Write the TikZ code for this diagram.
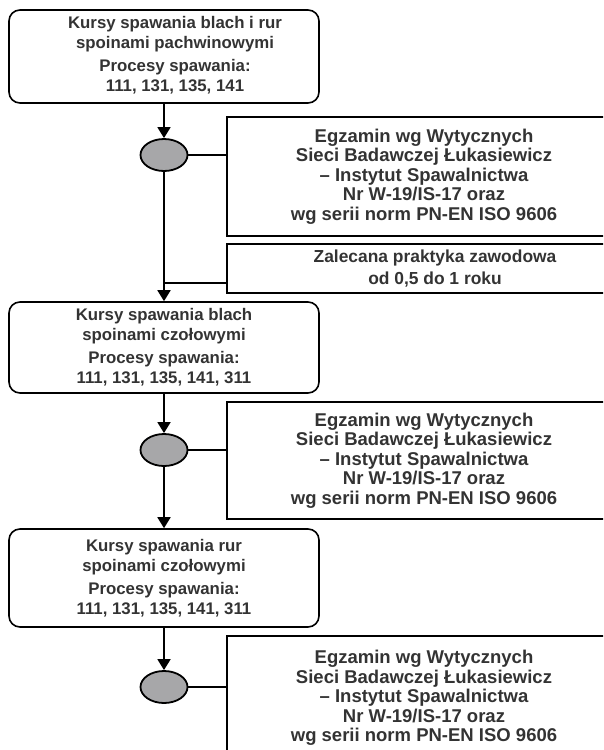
\documentclass[tikz,border=0pt]{standalone}
\usepackage{fontspec}
\setmainfont{Liberation Sans}
\usetikzlibrary{arrows.meta,shapes.geometric}
\definecolor{txtgray}{HTML}{333333}
\definecolor{ovalgray}{HTML}{A7A7A9}
\tikzset{
  course/.style={draw, line width=1.6pt, rounded corners=11pt, minimum width=310pt},
  exam/.style={draw, line width=1.6pt, minimum width=394pt},
  oval/.style={draw, ellipse, line width=1.8pt, fill=ovalgray, minimum width=47pt, minimum height=32pt, inner sep=0pt},
  words/.style={text=txtgray, align=center, font=\fontsize{16.8}{20.3}\selectfont\bfseries},
  bigwords/.style={words, font=\fontsize{18.5}{19.6}\selectfont\bfseries},
  arr/.style={line width=1.8pt, -{Triangle[length=11pt,width=13pt]}},
  conn/.style={line width=1.8pt}
}
\begin{document}
\begin{tikzpicture}[x=1pt,y=-1pt]
\useasboundingbox (0,0) rectangle (603,750);
\clip (0,0) rectangle (603,750);

% courses
\node[course, minimum height=93pt] (k1) at (164,56.5) {};
\node[words] (t1) at (175,55.5) {Kursy spawania blach i rur\\spoinami pachwinowymi\\[2.5pt]Procesy spawania:\\111, 131, 135, 141};
\node[course, minimum height=91pt, words] (k2) at (164,347.5) {Kursy spawania blach\\spoinami czołowymi\\[2.5pt]Procesy spawania:\\111, 131, 135, 141, 311};
\node[course, minimum height=98pt, words] (k3) at (164,578) {Kursy spawania rur\\spoinami czołowymi\\[2.5pt]Procesy spawania:\\111, 131, 135, 141, 311};

% exams
\node[oval] (o1) at (164,155) {};
\node[oval] (o2) at (164,450) {};
\node[oval] (o3) at (164,687) {};
\node[exam, minimum height=119pt, bigwords] (e1) at (424,176.5) {Egzamin wg Wytycznych\\Sieci Badawczej Łukasiewicz\\– Instytut Spawalnictwa\\Nr W-19/IS-17 oraz\\wg serii norm PN-EN ISO 9606};
\node[exam, minimum height=117pt, bigwords] (e2) at (424,460.5) {Egzamin wg Wytycznych\\Sieci Badawczej Łukasiewicz\\– Instytut Spawalnictwa\\Nr W-19/IS-17 oraz\\wg serii norm PN-EN ISO 9606};
\node[exam, minimum height=124pt, bigwords] (e3) at (424,698) {Egzamin wg Wytycznych\\Sieci Badawczej Łukasiewicz\\– Instytut Spawalnictwa\\Nr W-19/IS-17 oraz\\wg serii norm PN-EN ISO 9606};
\node[draw, line width=1.6pt, minimum width=416pt, minimum height=49pt, words, font=\fontsize{17.4}{22.5}\selectfont\bfseries] (z1) at (435,268.5) {Zalecana praktyka zawodowa\\od 0,5 do 1 roku};

\coordinate (j1) at (164,283);

\draw[arr] (k1) -- (o1);
\draw[conn] (o1.east) -- (o1.east -| e1.west);
\draw[arr] (o1) -- (k2);
\draw[conn] (j1) -- (j1 -| z1.west);
\draw[arr] (k2) -- (o2);
\draw[conn] (o2.east) -- (o2.east -| e2.west);
\draw[arr] (o2) -- (k3);
\draw[arr] (k3) -- (o3);
\draw[conn] (o3.east) -- (o3.east -| e3.west);

\end{tikzpicture}
\end{document}
